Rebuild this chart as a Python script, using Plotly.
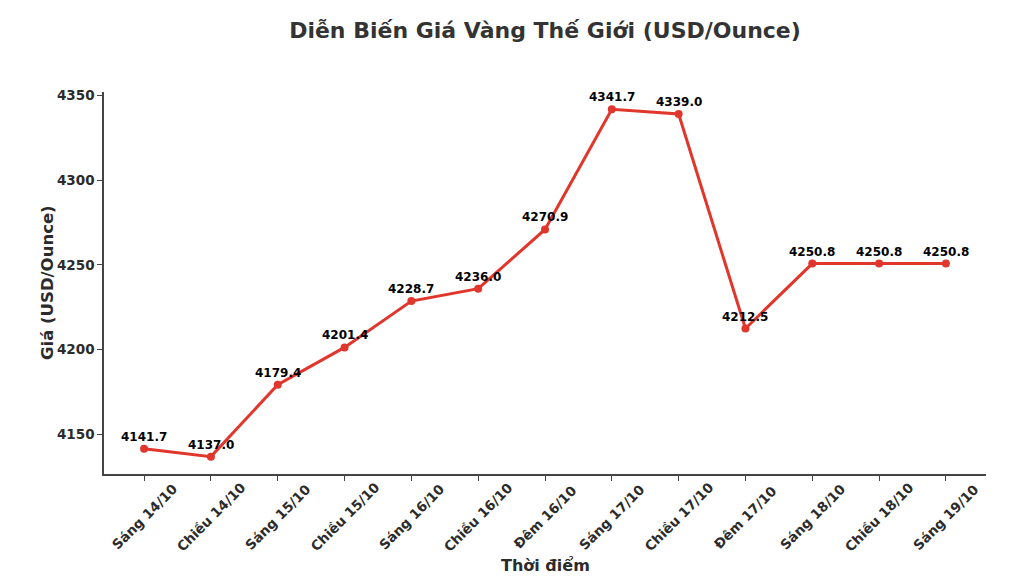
import plotly.graph_objects as go

categories = ["Sáng 14/10", "Chiều 14/10", "Sáng 15/10", "Chiều 15/10", "Sáng 16/10",
              "Chiều 16/10", "Đêm 16/10", "Sáng 17/10", "Chiều 17/10", "Đêm 17/10",
              "Sáng 18/10", "Chiều 18/10", "Sáng 19/10"]
prices = [4141.7, 4137.0, 4179.4, 4201.4, 4228.7, 4236.0, 4270.9, 4341.7, 4339.0,
          4212.5, 4250.8, 4250.8, 4250.8]
y_ticks = [4150, 4200, 4250, 4300, 4350]

FONT = "DejaVu Sans"
RED = "#E0362C"
DARK = "#2b2b2b"
x = list(range(len(categories)))

fig = go.Figure()
fig.add_trace(go.Scatter(
    x=x, y=prices, mode="lines+markers",
    line=dict(color=RED, width=3),
    marker=dict(color=RED, size=8),
    hoverinfo="skip",
))
# value labels
for xi, v in zip(x, prices):
    fig.add_annotation(x=xi, y=v, text=f"{v:.1f}", showarrow=False,
                       yshift=12, font=dict(family=FONT, size=12, color="black", weight="bold"))
# rotated category labels, centred under each tick
for xi, c in zip(x, categories):
    fig.add_annotation(x=xi, y=0, xref="x", yref="paper", text=c, showarrow=False,
                       textangle=-45, xanchor="center", yanchor="middle", yshift=-43,
                       font=dict(family=FONT, size=13.5, color=DARK, weight="bold"))
# x axis title
fig.add_annotation(x=0.5, y=0, xref="paper", yref="paper", text="Thời điểm", showarrow=False,
                   xanchor="center", yanchor="middle", yshift=-91,
                   font=dict(family=FONT, size=16, color=DARK, weight="bold"))
# y axis title
fig.add_annotation(x=0, y=0.5, xref="paper", yref="paper", text="Giá (USD/Ounce)", showarrow=False,
                   textangle=-90, xanchor="center", yanchor="middle", xshift=-57,
                   font=dict(family=FONT, size=16.5, color=DARK, weight="bold"))

ymin, ymax = min(prices), max(prices)
pad = (ymax - ymin) * 0.05

fig.update_layout(
    width=1014, height=568,
    paper_bgcolor="white", plot_bgcolor="white",
    margin=dict(l=96, r=36, t=84, b=102),
    showlegend=False,
    title=dict(text="Diễn Biến Giá Vàng Thế Giới (USD/Ounce)", x=537/1014, xanchor="center",
               y=1 - 22/568, yanchor="middle", yref="container",
               font=dict(family=FONT, size=22, color="#333333", weight="bold")),
    font=dict(family=FONT),
)
fig.update_xaxes(
    tickmode="array", tickvals=x, showticklabels=False,
    range=[-0.6, len(categories) - 1 + 0.6],
    showgrid=False, zeroline=False,
    showline=True, linecolor="#444444", linewidth=1.5,
    ticks="outside", ticklen=5, tickcolor="#444444",
)
fig.update_yaxes(
    tickmode="array", tickvals=y_ticks,
    range=[ymin - pad, ymax + pad],
    showgrid=False, zeroline=False,
    showline=True, linecolor="#444444", linewidth=1.5,
    ticks="outside", ticklen=5, tickcolor="#444444",
    tickfont=dict(family=FONT, size=13.5, color=DARK, weight="bold"),
)

fig.write_html("out.html")
